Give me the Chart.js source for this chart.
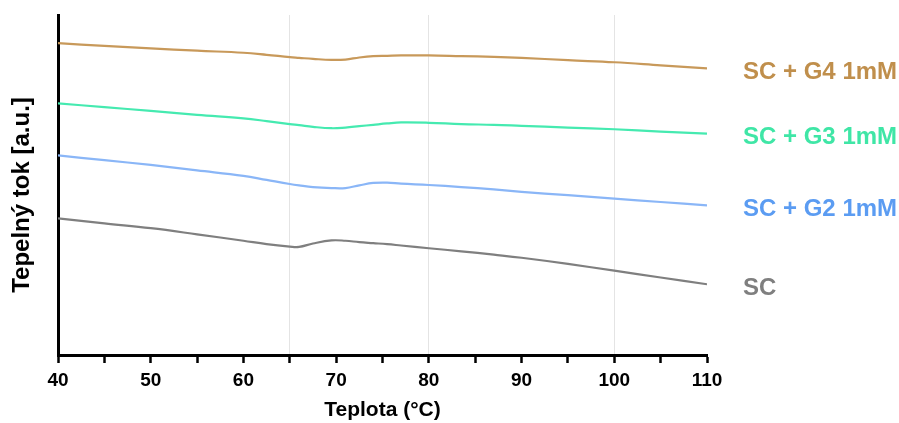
<!DOCTYPE html>
<html lang="cs">
<head>
    <meta charset="UTF-8">
    <title>Tepelný tok</title>
    <script src="https://cdn.jsdelivr.net/npm/chart.js"></script>
    <style>
        html, body { margin: 0; padding: 0; background: #fff; }
        canvas { display: block; }
    </style>
</head>
<body>
    <canvas id="chartCanvas" width="899" height="423"></canvas>

    <script>
        // Teploty (°C)
        const teploty = [40, 45, 50, 55, 60, 62.5, 65, 66, 67.5, 69.5, 71, 72.5, 74, 75.5, 77, 80, 83.5, 87, 90, 95, 100, 105, 110];

        // Tepelný tok [a.u.]
        const sc   = [40.2, 38.7, 37.3, 35.5, 33.6, 32.6, 31.9, 31.8, 32.8, 33.7, 33.6, 33.2, 32.9, 32.6, 32.2, 31.4, 30.5, 29.5, 28.6, 26.8, 24.8, 22.8, 20.8];
        const scG2 = [58.7, 57.3, 55.9, 54.3, 52.7, 51.5, 50.3, 49.9, 49.4, 49.1, 49.1, 49.9, 50.6, 50.7, 50.4, 50.0, 49.4, 48.7, 48.0, 47.0, 46.0, 45.0, 44.0];
        const scG3 = [74.0, 72.9, 71.8, 70.6, 69.6, 68.8, 67.9, 67.6, 67.1, 66.7, 66.9, 67.3, 67.7, 68.1, 68.4, 68.3, 67.9, 67.7, 67.4, 66.9, 66.4, 65.7, 65.1];
        const scG4 = [91.7, 90.9, 90.2, 89.5, 88.9, 88.3, 87.6, 87.4, 87.1, 86.8, 86.9, 87.5, 87.9, 88.0, 88.1, 88.1, 87.9, 87.7, 87.4, 86.7, 86.1, 85.2, 84.3];

        const nazvy = ['SC', 'SC + G2 1mM', 'SC + G3 1mM', 'SC + G4 1mM'];
        const barvyCar = ['#7f7f7f', '#8ab6f7', '#45eab0', '#c8995a'];
        const barvyTextu = ['#7f7f7f', '#5b9cf2', '#3fe6a6', '#c08f4c'];

        // svislé pomocné čáry
        const mrizka = [65, 80, 100];

        const font = '"Liberation Sans", Arial, sans-serif';

        function bodyz(hodnoty) {
            return teploty.map((t, i) => ({ x: t, y: hodnoty[i] }));
        }

        const serie = [sc, scG2, scG3, scG4];

        // popisky vpravo u konce křivek
        const popiskyPlugin = {
            id: 'popisky',
            afterDatasetsDraw(chart) {
                const ctx = chart.ctx;
                ctx.save();
                ctx.font = 'bold 24px ' + font;
                ctx.textBaseline = 'middle';
                ctx.textAlign = 'left';
                chart.data.datasets.forEach((ds, i) => {
                    const meta = chart.getDatasetMeta(i);
                    const posledni = meta.data[meta.data.length - 1];
                    ctx.fillStyle = barvyTextu[i];
                    ctx.fillText(ds.label, chart.chartArea.right + 36, posledni.y + 4);
                });
                ctx.restore();
            }
        };

        // popisek osy y
        const osaYPlugin = {
            id: 'osaY',
            afterDraw(chart) {
                const ctx = chart.ctx;
                const a = chart.chartArea;
                ctx.save();
                ctx.translate(22, (a.top + a.bottom) / 2 + 10);
                ctx.rotate(-Math.PI / 2);
                ctx.font = 'bold 24px ' + font;
                ctx.fillStyle = '#000';
                ctx.textAlign = 'center';
                ctx.textBaseline = 'middle';
                ctx.fillText('Tepelný tok [a.u.]', 0, 0);
                ctx.restore();
            }
        };

        const ctx = document.getElementById('chartCanvas').getContext('2d');
        new Chart(ctx, {
            type: 'line',
            data: {
                datasets: serie.map((s, i) => ({
                    label: nazvy[i],
                    data: bodyz(s),
                    borderColor: barvyCar[i],
                    borderWidth: 2.2,
                    pointRadius: 0,
                    fill: false,
                    tension: 0.4
                }))
            },
            options: {
                responsive: false,
                animation: false,
                devicePixelRatio: 1,
                layout: {
                    padding: { top: 15, right: 192, bottom: 0, left: 0 }
                },
                plugins: {
                    legend: { display: false },
                    tooltip: { enabled: false }
                },
                scales: {
                    x: {
                        type: 'linear',
                        min: 40,
                        max: 110,
                        ticks: {
                            stepSize: 5,
                            autoSkip: false,
                            maxRotation: 0,
                            padding: 6,
                            color: '#000',
                            font: { family: font, size: 19, weight: 'bold' },
                            callback: v => (v % 10 === 0 ? v : '')
                        },
                        grid: {
                            color: c => (c.tick && mrizka.includes(c.tick.value) ? '#e4e4e4' : 'rgba(0,0,0,0)'),
                            lineWidth: 1,
                            tickColor: '#000',
                            tickWidth: 2.5,
                            tickLength: 8
                        },
                        border: { display: true, color: '#000', width: 3 },
                        title: {
                            display: true,
                            text: 'Teplota (°C)',
                            color: '#000',
                            font: { family: font, size: 21, weight: 'bold' },
                            padding: { top: 0, bottom: 0 }
                        },
                        afterFit: s => { s.height = 68; }
                    },
                    y: {
                        min: 0,
                        max: 100,
                        ticks: { display: false },
                        grid: { display: false },
                        border: { display: true, color: '#000', width: 3 },
                        afterFit: s => { s.width = 58; }
                    }
                }
            },
            plugins: [popiskyPlugin, osaYPlugin]
        });
    </script>
</body>
</html>
